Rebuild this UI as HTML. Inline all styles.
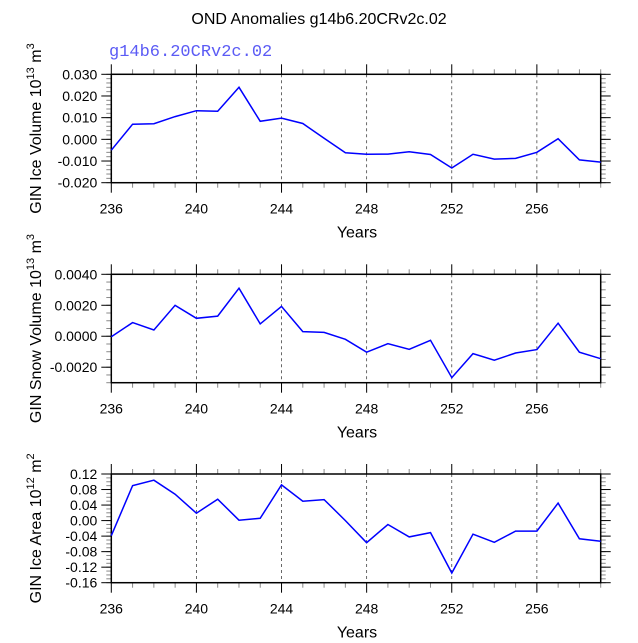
<!DOCTYPE html>
<html><head><meta charset="utf-8"><style>
body{margin:0;background:#fff;width:638px;height:638px;overflow:hidden}
svg text{font-family:"Liberation Sans",sans-serif}
</style></head><body>
<svg id="c" width="638" height="638" xmlns="http://www.w3.org/2000/svg">
<text x="319" y="24" text-anchor="middle" font-size="16">OND Anomalies g14b6.20CRv2c.02</text>
<text x="109" y="56" font-size="17" fill="#5b5bf5" style="font-family:'Liberation Mono',monospace">g14b6.20CRv2c.02</text>
</svg>
<script>
const years=[236,237,238,239,240,241,242,243,244,245,246,247,248,249,250,251,252,253,254,255,256,257,258,259];
const iceVolume=[-0.005,0.007,0.0072,0.0105,0.0132,0.013,0.024,0.0083,0.0098,0.0073,0.0005,-0.0062,-0.0069,-0.0068,-0.0057,-0.007,-0.0132,-0.0069,-0.0091,-0.0088,-0.006,0.0003,-0.0095,-0.0105];
const snowVolume=[-0.00003,0.00088,0.0004,0.002,0.00116,0.0013,0.0031,0.0008,0.00193,0.0003,0.00025,-0.0002,-0.00103,-0.00048,-0.00084,-0.00026,-0.00267,-0.00112,-0.00155,-0.00108,-0.00086,0.00084,-0.00103,-0.00145];
const iceArea=[-0.039,0.09,0.104,0.068,0.019,0.055,0.001,0.006,0.092,0.05,0.054,0.0,-0.057,-0.01,-0.042,-0.031,-0.135,-0.035,-0.056,-0.027,-0.027,0.045,-0.047,-0.053];
const xTicks=[236,240,244,248,252,256];
const iceVolTicks=["-0.020","-0.010","0.000","0.010","0.020","0.030"];
const snowTicks=["-0.0020","0.0000","0.0020","0.0040"];
const areaTicks=["-0.16","-0.12","-0.08","-0.04","0.00","0.04","0.08","0.12"];
const svg=document.getElementById('c');
const NS='http://www.w3.org/2000/svg';
function mk(tag,attrs,parent){const e=document.createElementNS(NS,tag);for(const k in attrs)e.setAttribute(k,attrs[k]);(parent||svg).appendChild(e);return e;}
const X0=111.3,X1=600.7,XMIN=236,XMAX=259;
const xs=v=>X0+(v-XMIN)/(XMAX-XMIN)*(X1-X0);
function panel(name,top,bot,ymin,ymax,ticks,minorStep,series,labelMain,sup,unit){
  const g=mk('g',{});
  
  
  const ys=v=>bot-(v-ymin)/(ymax-ymin)*(bot-top);
  xTicks.forEach(t=>{if(t>XMIN){const l=mk('line',{x1:xs(t),x2:xs(t),y1:top,y2:bot,stroke:'#444','stroke-width':0.8,'stroke-dasharray':'3,3'},g);
    
    }});
  for(let y=XMIN;y<=XMAX;y++){const major=xTicks.includes(y);const len=major?10:5;
    mk('line',{x1:xs(y),x2:xs(y),y1:top-len,y2:top,stroke:major?'#000':'#888','stroke-width':1},g);
    mk('line',{x1:xs(y),x2:xs(y),y1:bot,y2:bot+len,stroke:major?'#000':'#888','stroke-width':1},g);}
  xTicks.forEach(t=>{const tx=mk('text',{x:xs(t),y:bot+31,'text-anchor':'middle','font-size':14},g);tx.textContent=t;
    
    });
  for(let v=ymin;v<=ymax+1e-12;v+=minorStep){mk('line',{x1:X0-5,x2:X0,y1:ys(v),y2:ys(v),stroke:'#888'},g);mk('line',{x1:X1,x2:X1+5,y1:ys(v),y2:ys(v),stroke:'#888'},g);}
  ticks.forEach(s=>{const v=parseFloat(s);mk('line',{x1:X0-10,x2:X0,y1:ys(v),y2:ys(v),stroke:'#000'},g);mk('line',{x1:X1,x2:X1+10,y1:ys(v),y2:ys(v),stroke:'#000'},g);
    const tx=mk('text',{x:X0-14,y:ys(v)+5,'text-anchor':'end','font-size':14},g);tx.textContent=s;
    
    });
  const fr=mk('rect',{x:X0,y:top,width:X1-X0,height:bot-top,fill:'none',stroke:'#000','stroke-width':1.5},g);
  
  
  const pts=series.map((v,i)=>xs(years[i]).toFixed(1)+','+ys(v).toFixed(1)).join(' ');
  const pl=mk('polyline',{points:pts,fill:'none',stroke:'#0000ff','stroke-width':1.5},g);
  
  
  const xt=mk('text',{x:357,y:bot+55,'text-anchor':'middle','font-size':16},g);xt.textContent='Years';
  
  
  const cy=(top+bot)/2;
  const yt=mk('text',{x:0,y:0,'text-anchor':'middle','font-size':16,transform:`translate(41,${cy}) rotate(-90)`},g);
  
  
  yt.innerHTML=labelMain+' 10<tspan dy="-7" font-size="11">'+sup+'</tspan><tspan dy="7"> m</tspan><tspan dy="-7" font-size="11">'+unit+'</tspan>';
}
panel('ice-volume',74.3,182.7,-0.02,0.03,iceVolTicks,0.002,iceVolume,'GIN Ice Volume','13','3');
panel('snow-volume',274.3,382.7,-0.003,0.004,snowTicks,0.0005,snowVolume,'GIN Snow Volume','13','3');
panel('ice-area',474,582.7,-0.16,0.12,areaTicks,0.01,iceArea,'GIN Ice Area','12','2');
</script>
</body></html>
